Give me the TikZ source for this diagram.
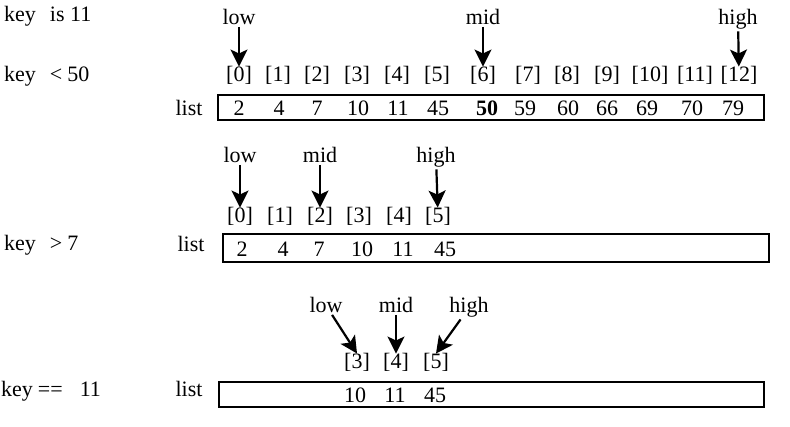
\documentclass[tikz,border=0pt]{standalone}
\usepackage{fontspec}
\setmainfont{Liberation Serif}
\usepackage{tikz}
\usetikzlibrary{arrows.meta}

\begin{document}
\begin{tikzpicture}[x=1pt,y=-1pt]
\tikzstyle{txt}=[anchor=base,inner sep=1.5pt,font=\fontsize{22}{26}\selectfont];
\tikzstyle{idx}=[txt,inner sep=0pt];
\tikzstyle{key}=[txt,anchor=base west,inner sep=0pt];
\tikzstyle{lst}=[draw,line width=2pt,inner sep=0pt];
\tikzstyle{ptr}=[-{Stealth[length=17pt,width=17pt,inset=4pt]},line width=2.2pt];
\useasboundingbox (0,0) rectangle (790,427);

% first step
\node [key] (k0) at (4,22) {key\hspace{14pt}is 11};
\node [key] (k1) at (4,82) {key\hspace{14pt}<\hspace{5pt}50};
\node [txt] (lista) at (189,116) {list};
\node [lst,minimum width=546pt,minimum height=25pt] (boxa) at (491,107.5) {};
\node [txt] (lowa) at (239,25) {low};
\node [txt] (mida) at (483,25) {mid};
\node [txt] (higha) at (738,25) {high};
\node [idx] (a0) at (239,82) {[0]};
\node [idx] (a1) at (278,82) {[1]};
\node [idx] (a2) at (317,82) {[2]};
\node [idx] (a3) at (357,82) {[3]};
\node [idx] (a4) at (397,82) {[4]};
\node [idx] (a5) at (437,82) {[5]};
\node [idx] (a6) at (483,82) {[6]};
\node [idx] (a7) at (528,82) {[7]};
\node [idx] (a8) at (567,82) {[8]};
\node [idx] (a9) at (607,82) {[9]};
\node [idx] (a10) at (650,82) {[10]};
\node [idx] (a11) at (695,82) {[11]};
\node [idx] (a12) at (739,82) {[12]};
\node [txt] (va0) at (239,116) {2};
\node [txt] (va1) at (279,116) {4};
\node [txt] (va2) at (317,116) {7};
\node [txt] (va3) at (358,116) {10};
\node [txt] (va4) at (398,116) {11};
\node [txt] (va5) at (438,116) {45};
\node [txt] (va6) at (487,116) {\textbf{50}};
\node [txt] (va7) at (525,116) {59};
\node [txt] (va8) at (568,116) {60};
\node [txt] (va9) at (607,116) {66};
\node [txt] (va10) at (647,116) {69};
\node [txt] (va11) at (692,116) {70};
\node [txt] (va12) at (733,116) {79};
\draw [ptr] (lowa) -- (a0);
\draw [ptr] (mida) -- (a6);
\draw [ptr] (higha) -- (a12);

% second step
\node [key] (k2) at (4,251) {key\hspace{14pt}>\hspace{5pt}7};
\node [txt] (listb) at (191,252) {list};
\node [lst,minimum width=546pt,minimum height=28pt] (boxb) at (496,248) {};
\node [txt] (lowb) at (240,163) {low};
\node [txt] (midb) at (320,163) {mid};
\node [txt] (highb) at (436,163) {high};
\node [idx] (b0) at (240,223) {[0]};
\node [idx] (b1) at (280,223) {[1]};
\node [idx] (b2) at (320,223) {[2]};
\node [idx] (b3) at (359,223) {[3]};
\node [idx] (b4) at (399,223) {[4]};
\node [idx] (b5) at (438,223) {[5]};
\node [txt] (vb0) at (242,257) {2};
\node [txt] (vb1) at (283,257) {4};
\node [txt] (vb2) at (319,257) {7};
\node [txt] (vb3) at (362,257) {10};
\node [txt] (vb4) at (403,257) {11};
\node [txt] (vb5) at (445,257) {45};
\draw [ptr] (lowb) -- (b0);
\draw [ptr] (midb) -- (b2);
\draw [ptr] (highb) -- (b5);

% third step
\node [key] (k3) at (1,397) {key\hspace{5pt}==\hspace{17pt}11};
\node [txt] (listc) at (189,397) {list};
\node [lst,minimum width=545pt,minimum height=25pt] (boxc) at (491.5,394.5) {};
\node [txt] (lowc) at (326,313) {low};
\node [txt] (midc) at (396,313) {mid};
\node [txt] (highc) at (469,313) {high};
\node [idx] (c3) at (357,369) {[3]};
\node [idx] (c4) at (396,369) {[4]};
\node [idx] (c5) at (436,369) {[5]};
\node [txt] (vc3) at (355,403) {10};
\node [txt] (vc4) at (395,403) {11};
\node [txt] (vc5) at (435,403) {45};
\draw [ptr] (lowc) -- (c3.north);
\draw [ptr] (midc) -- (c4);
\draw [ptr] (highc) -- (c5.north);
\end{tikzpicture}
\end{document}
